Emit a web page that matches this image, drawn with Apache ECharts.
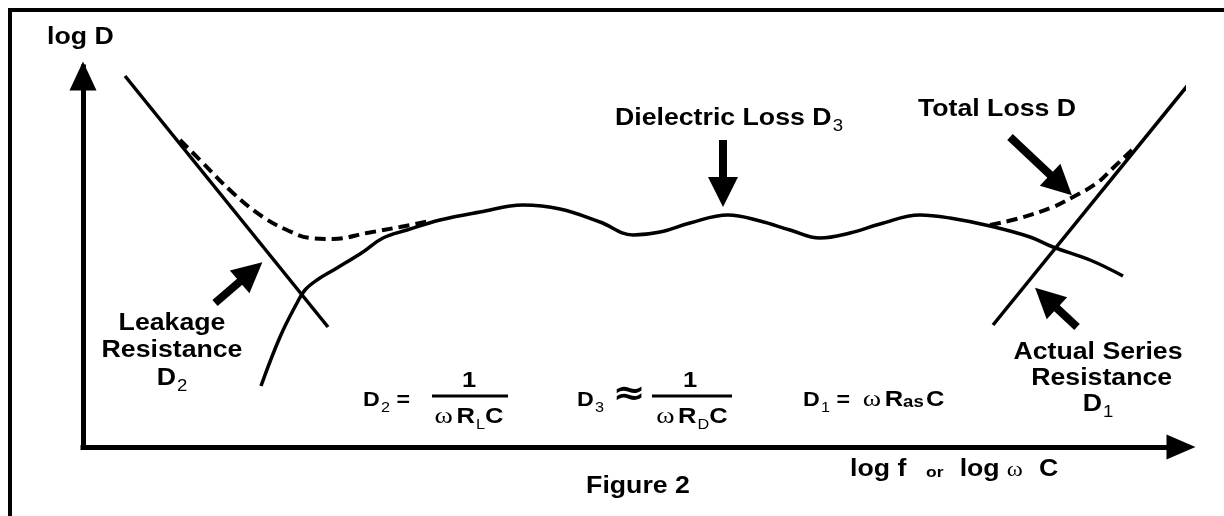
<!DOCTYPE html>
<html style="height: 100%">
<head>
<meta charset="utf-8">
<script src="https://cdn.jsdelivr.net/npm/echarts@6/dist/echarts.min.js"></script>
</head>
<body style="height: 100%; margin: 0; background: #fff">
<div id="container" style="width: 1224px; height: 516px"></div>
<script type="text/javascript">
// axis ranges (log f across, log D up)
const xRange = [0, 110];
const yRange = [0, 38];

// D2 asymptote (leakage resistance) and D1 asymptote (series resistance)
const leakageLine = [[4.2, 37.1], [24.5, 12.0]];
const seriesResLine = [[91.0, 12.2], [110.9, 36.7]];

// dielectric loss D3, solid curve
const dielectricLoss = [
    [17.8, 6.1], [19.7, 11.0], [21.4, 14.4], [22.2, 15.7], [23.4, 16.7],
    [25.4, 17.9], [28.0, 19.5], [30.0, 20.9], [32.4, 21.7], [35.7, 22.7],
    [39.7, 23.5], [44.0, 24.2], [47.7, 23.8], [51.7, 22.5], [55.0, 21.2],
    [57.7, 21.5], [60.7, 22.4], [64.5, 23.2], [67.7, 22.6], [70.7, 21.7],
    [73.7, 20.9], [76.7, 21.4], [79.7, 22.3], [83.7, 23.2], [86.7, 22.9],
    [90.7, 22.1], [94.7, 21.0], [97.0, 20.0], [100.7, 18.7], [104.0, 17.1]
];

// total loss D, dashed where it leaves D3
const totalLossLow = [
    [9.7, 30.7], [11.7, 28.7], [15.0, 25.4], [18.0, 23.0], [20.4, 21.7],
    [22.7, 20.9], [25.0, 20.8], [28.4, 21.4], [31.7, 22.0], [34.7, 22.6]
];
const totalLossHigh = [
    [90.7, 22.2], [93.7, 22.9], [97.0, 24.0], [99.0, 25.0],
    [101.4, 26.4], [103.0, 27.9], [104.9, 29.7]
];

// pointer arrows: [from, head centre]
const pointers = [
    [[64.0, 30.7], [64.0, 25.5]],
    [[92.7, 31.0], [97.8, 26.2]],
    [[13.2, 14.4], [16.8, 17.5]],
    [[99.4, 12.0], [96.3, 14.9]]
];

const dom = document.getElementById("container");
const myChart = echarts.init(dom, null, {renderer: 'canvas'});

const SANS = 'Liberation Sans';
const SERIF = 'Liberation Serif';
const SX = 1.16;

function bold(size, pad) {
    return {fontFamily: SANS, fontWeight: 'bold', fontSize: size, color: '#000', padding: pad || 0};
}
function sub(size, drop) {
    return {fontFamily: SANS, fontWeight: 'normal', fontSize: size, color: '#000', padding: [drop, 0, 0, 1]};
}
function omega(size, pad) {
    return {fontFamily: SERIF, fontWeight: 'normal', fontSize: size, color: '#000', padding: pad || [0, 3, 0, 0]};
}

function label(text, x, y, align, rich, size, lh) {
    return {
        type: 'text', x: x, y: y, scaleX: SX, z: 100,
        style: {
            text: text,
            fontFamily: SANS, fontWeight: 'bold', fontSize: size || 23,
            fill: '#000',
            align: align || 'center', verticalAlign: 'middle',
            textAlign: align || 'center', textVerticalAlign: 'middle',
            lineHeight: lh,
            rich: rich || {}
        }
    };
}

const bigRich = {
    b: {fontFamily: SANS, fontWeight: 'bold', fontSize: 23, color: '#000'},
    s: {fontFamily: SANS, fontWeight: 'normal', fontSize: 16, color: '#000', padding: [16, 0, 0, 1]}
};
const fRich = {
    b: bold(20),
    c: bold(22),
    s: sub(14, 16),
    w: omega(24),
    a: {fontFamily: SANS, fontWeight: 'bold', fontSize: 16, color: '#000', padding: [5, 2, 0, 0]},
    ap: {fontFamily: 'DejaVu Sans', fontWeight: 'bold', fontSize: 34, color: '#000'}
};

const graphics = [
    // outer frame (top and left edges only are visible)
    {type: 'polyline', z: 1, shape: {points: [[10, 520], [10, 10], [1230, 10]]},
        style: {stroke: '#000', lineWidth: 4, fill: null}},

    label('log D', 47, 38, 'left'),
    label('{b|Dielectric Loss D}{s|3}', 729, 119, 'center', bigRich),
    label('Total Loss D', 997, 110, 'center'),
    label('{b|Leakage}\n{b|Resistance}\n{b|D}{s|2}', 172, 351, 'center', bigRich, 23, 27.5),
    label('{b|Actual Series}\n{b| Resistance}\n{b|D}{s|1}', 1098, 379, 'center', bigRich, 23, 26),
    label('Figure 2', 638, 487, 'center'),
    label('{b|log f}{o|or}{b|log}{w|ω}{b|C}', 850, 470, 'left',
        {b: bold(23), o: {fontFamily: SANS, fontWeight: 'bold', fontSize: 15, color: '#000', padding: [5, 14, 0, 17]},
            w: omega(21, [0, 14, 0, 6])}),

    // D2 = 1 / (ω RL C)
    label('{b|D}{s|2}{b| =}', 363, 400, 'left', fRich),
    label('{c|1}', 469, 381, 'center', fRich),
    {type: 'line', z: 100, shape: {x1: 432, y1: 396, x2: 508, y2: 396}, style: {stroke: '#000', lineWidth: 3}},
    label('{w|ω}{c|R}{s|L}{c|C}', 469, 417, 'center', fRich),

    // D3 ≈ 1 / (ω RD C)
    label('{b|D}{s|3}', 577, 400, 'left', fRich),
    label('{ap|≈}', 629, 395, 'center', fRich),
    label('{c|1}', 690, 381, 'center', fRich),
    {type: 'line', z: 100, shape: {x1: 652, y1: 396, x2: 732, y2: 396}, style: {stroke: '#000', lineWidth: 3}},
    label('{w|ω}{c|R}{s|D}{c|C}', 692, 417, 'center', fRich),

    // D1 = ω Ras C
    label('{b|D}{s|1}{b| =  }{w|ω}{c|R}{a|as}{c|C}', 803, 400, 'left', fRich)
];

const option = {
    animation: false,
    backgroundColor: '#fff',
    grid: {left: 83, right: 41, top: 67, bottom: 69},
    xAxis: {
        type: 'value', min: xRange[0], max: xRange[1],
        axisLine: {show: true, onZero: false, symbol: ['none', 'triangle'], symbolSize: [25, 29], symbolOffset: [0, -2],
            lineStyle: {color: '#000', width: 5, cap: 'square'}},
        axisTick: {show: false}, axisLabel: {show: false}, splitLine: {show: false}
    },
    yAxis: {
        type: 'value', min: yRange[0], max: yRange[1],
        axisLine: {show: true, onZero: false, symbol: ['none', 'triangle'], symbolSize: [27, 29], symbolOffset: [0, -9],
            lineStyle: {color: '#000', width: 5, cap: 'square'}},
        axisTick: {show: false}, axisLabel: {show: false}, splitLine: {show: false}
    },
    series: [
        {type: 'line', data: leakageLine, showSymbol: false, clip: false,
            lineStyle: {color: '#000', width: 3.5}},
        {type: 'line', data: seriesResLine, showSymbol: false, clip: false,
            lineStyle: {color: '#000', width: 3.5}},
        {type: 'line', data: dielectricLoss, showSymbol: false, smooth: 0.4, clip: false,
            lineStyle: {color: '#000', width: 3.5}},
        {type: 'line', data: totalLossLow, showSymbol: false, smooth: 0.4, clip: false,
            lineStyle: {color: '#000', width: 4, type: [11, 6]}},
        {type: 'line', data: totalLossHigh, showSymbol: false, smooth: 0.4, clip: false,
            lineStyle: {color: '#000', width: 4, type: [11, 6]}},
        {type: 'lines', coordinateSystem: 'cartesian2d', silent: true,
            symbol: ['none', 'triangle'], symbolSize: [27, 30],
            lineStyle: {color: '#000', width: 8, opacity: 1, curveness: 0},
            data: pointers.map(function (p) { return {coords: p}; })}
    ],
    graphic: graphics
};

if (option && typeof option === "object") {
    myChart.setOption(option, true);
}
</script>
</body>
</html>
